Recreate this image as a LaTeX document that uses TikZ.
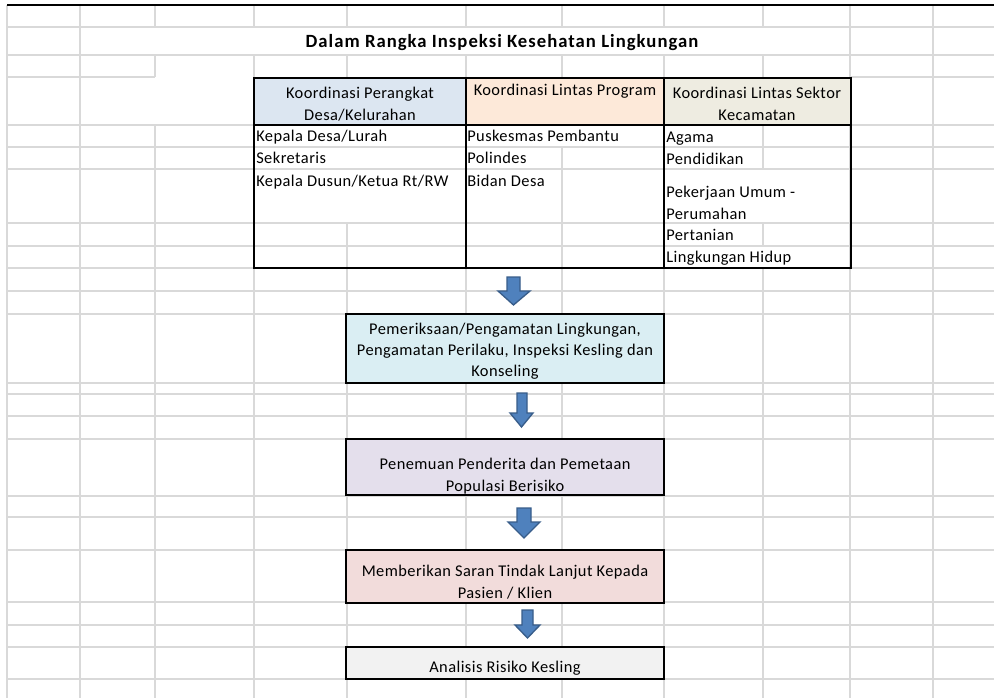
\documentclass[tikz,border=0pt]{standalone}
\usepackage{fontspec}
\setmainfont{Carlito}
\newfontfamily\bodyfont[LetterSpace=2.7]{Carlito}
\newfontfamily\titlefont[LetterSpace=5.5]{Carlito Bold}
\definecolor{gridc}{HTML}{D9D9D9}
\definecolor{hA}{HTML}{DCE6F1}
\definecolor{hB}{HTML}{FDE9D9}
\definecolor{hC}{HTML}{EEECE1}
\definecolor{fA}{HTML}{DAEEF3}
\definecolor{fB}{HTML}{E4DFEC}
\definecolor{fC}{HTML}{F2DCDB}
\definecolor{fD}{HTML}{F2F2F2}
\definecolor{arrfill}{HTML}{4F81BD}
\definecolor{arrline}{HTML}{385D8A}
\tikzset{
  gridline/.style={draw=gridc, line width=0.9pt},
  boxline/.style={draw=black, line width=2pt},
  txt/.style={font=\bodyfont\fontsize{12.3}{16.5}\selectfont, inner sep=0pt, text=black},
  blockarr/.style={fill=arrfill, draw=arrline, line width=1pt, line join=miter},
}
\begin{document}
\begin{tikzpicture}[x=0.75pt,y=-0.75pt]
\useasboundingbox (0,0) rectangle (994,698);
\fill[white] (0,0) rectangle (994,698);

% ---- horizontal grid lines
\foreach \yy in {27,55,125,147,169,223,246,268,291,314,383,394,416,439,496,517,550,602,625,647,679}
  \draw[gridline] (7,\yy) -- (994,\yy);
\draw[gridline] (7,77) -- (155,77);
\draw[gridline] (851,77) -- (994,77);

% ---- vertical grid lines
\foreach \xx in {7,80,850,933}
  \draw[gridline] (\xx,5) -- (\xx,698);
\draw[gridline] (155,5) -- (155,27) (155,55) -- (155,77) (155,125) -- (155,698);
\draw[gridline] (254,5) -- (254,27) (254,55) -- (254,698);
\draw[gridline] (347,5) -- (347,27) (347,55) -- (347,77) (347,223) -- (347,314)
  (347,383) -- (347,439) (347,496) -- (347,550) (347,602) -- (347,647) (347,679) -- (347,698);
\draw[gridline] (466,5) -- (466,27) (466,55) -- (466,314)
  (466,383) -- (466,439) (466,496) -- (466,550) (466,602) -- (466,647) (466,679) -- (466,698);
\draw[gridline] (562,5) -- (562,27) (562,55) -- (562,77) (562,147) -- (562,314)
  (562,383) -- (562,439) (562,496) -- (562,550) (562,602) -- (562,647) (562,679) -- (562,698);
\draw[gridline] (664,5) -- (664,27) (664,55) -- (664,698);
\draw[gridline] (763,5) -- (763,27) (763,55) -- (763,77) (763,125) -- (763,169)
  (763,223) -- (763,246) (763,268) -- (763,698);

% ---- top thick line
\draw[black, line width=2.2pt] (7,5) -- (994,5);

% ---- title
\node[inner sep=0pt, font=\titlefont\fontsize{14}{16}\selectfont] (title) at (502,43) {Dalam Rangka Inspeksi Kesehatan Lingkungan};

% ---- table
\fill[hA] (254,78) rectangle (466,125);
\fill[hB] (466,78) rectangle (664,125);
\fill[hC] (664,78) rectangle (851,125);
\draw[boxline] (254,78) rectangle (466,268);
\draw[boxline] (466,78) rectangle (664,268);
\draw[boxline] (664,78) rectangle (851,268);
\draw[boxline] (254,125) -- (851,125);

\node[txt, align=center] (hdA) at (360,104) {Koordinasi Perangkat\\Desa/Kelurahan};
\node[txt, anchor=mid] (hdB) at (565,92) {Koordinasi Lintas Program};
\node[txt, align=center] (hdC) at (757,104) {Koordinasi Lintas Sektor\\Kecamatan};

\node[txt, anchor=mid west] (a1) at (256,138) {Kepala Desa/Lurah};
\node[txt, anchor=mid west] (a2) at (256,160) {Sekretaris};
\node[txt, anchor=mid west] (a3) at (256,183) {Kepala Dusun/Ketua Rt/RW};

\node[txt, anchor=mid west] (b1) at (467,138) {Puskesmas Pembantu};
\node[txt, anchor=mid west] (b2) at (467,160) {Polindes};
\node[txt, anchor=mid west] (b3) at (467,183) {Bidan Desa};

\node[txt, anchor=mid west] (c1) at (666,139) {Agama};
\node[txt, anchor=mid west] (c2) at (666,161) {Pendidikan};
\node[txt, anchor=mid west] (c3) at (666,194) {Pekerjaan Umum -};
\node[txt, anchor=mid west] (c4) at (666,216) {Perumahan};
\node[txt, anchor=mid west] (c5) at (666,237) {Pertanian};
\node[txt, anchor=mid west] (c6) at (666,259) {Lingkungan Hidup};

% ---- flow boxes
\draw[boxline, fill=fA] (346,314) rectangle (664,383);
\node[txt, align=center, font=\bodyfont\fontsize{12.3}{15.8}\selectfont] (pem) at (505,351)
  {Pemeriksaan/Pengamatan Lingkungan,\\Pengamatan Perilaku, Inspeksi Kesling dan\\Konseling};

\draw[boxline, fill=fB] (346,439) rectangle (664,495);
\node[txt, align=center] (pen) at (505,476) {Penemuan Penderita dan Pemetaan\\Populasi Berisiko};

\draw[boxline, fill=fC] (346,550) rectangle (664,603);
\node[txt, align=center, font=\bodyfont\fontsize{12.3}{17}\selectfont] (mem) at (505,582) {Memberikan Saran Tindak Lanjut Kepada\\Pasien / Klien};

\draw[boxline, fill=fD] (346,647) rectangle (664,679);
\node[txt, anchor=mid] (ana) at (505,669) {Analisis Risiko Kesling};

% ---- block arrows
\filldraw[blockarr] (507,277) -- (520,277) -- (520,291) -- (530,291) -- (513.5,305) -- (498,291) -- (507,291) -- cycle;
\filldraw[blockarr] (517,393) -- (527,393) -- (527,413) -- (533,413) -- (521.5,427) -- (510,413) -- (517,413) -- cycle;
\filldraw[blockarr] (517,508) -- (531,508) -- (531,522) -- (540,522) -- (524,538) -- (508,522) -- (517,522) -- cycle;
\filldraw[blockarr] (522,610) -- (533,610) -- (533,625) -- (540,625) -- (527.5,638) -- (515,625) -- (522,625) -- cycle;
\end{tikzpicture}
\end{document}
